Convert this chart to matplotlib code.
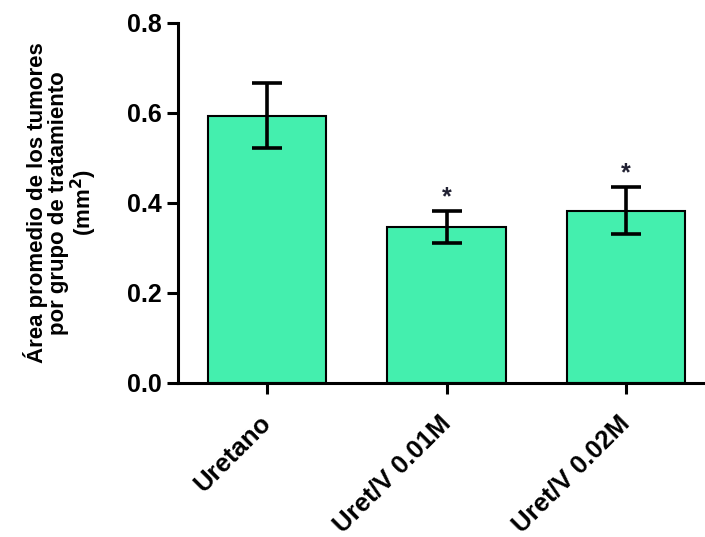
import matplotlib
matplotlib.use("Agg")
import matplotlib.pyplot as plt
import numpy as np

groups = ["Uretano", "Uret/V 0.01M", "Uret/V 0.02M"]
means = [0.594, 0.347, 0.383]
sem = [0.072, 0.036, 0.052]
signif = ["", "*", "*"]

plt.rcParams["font.family"] = ["Liberation Sans", "DejaVu Sans"]
plt.rcParams["font.weight"] = "bold"
plt.rcParams["mathtext.default"] = "bf"

fig = plt.figure(figsize=(7.05, 5.37), dpi=100)
ax = fig.add_axes([0.2525, 0.2868, 0.7475, 0.6704])

x = np.arange(len(groups))
ax.bar(x, means, width=0.66, color="#44EFAE", edgecolor="black", linewidth=1.5, zorder=2)
ax.errorbar(x, means, yerr=sem, fmt="none", ecolor="black", elinewidth=2.6,
            capsize=11, capthick=2.6, zorder=3)

for xi, m, s, lab in zip(x, means, sem, signif):
    if lab:
        ax.text(xi, m + s + 0.004, lab, ha="center", va="bottom", fontsize=18,
                fontweight="bold", color="#222233")

ax.set_xlim(-0.497, 2.44)
ax.set_ylim(0, 0.8)
ax.set_yticks([0.0, 0.2, 0.4, 0.6, 0.8])
ax.set_yticklabels(["0.0", "0.2", "0.4", "0.6", "0.8"])
ax.set_xticks(x)
ax.set_xticklabels(groups, rotation=45, ha="right", va="center", rotation_mode="anchor")

for side in ["top", "right"]:
    ax.spines[side].set_visible(False)
for side in ["left", "bottom"]:
    ax.spines[side].set_linewidth(2.2)

ax.tick_params(axis="both", width=2.2, length=8, labelsize=18, pad=4)
ax.tick_params(axis="x", labelsize=18.5, pad=18)

ax.set_ylabel("Área promedio de los tumores\npor grupo de tratamiento\n(mm$^2$)",
              fontsize=16, fontweight="bold", labelpad=20, linespacing=1.0)

fig.savefig("out.png", dpi=100)
